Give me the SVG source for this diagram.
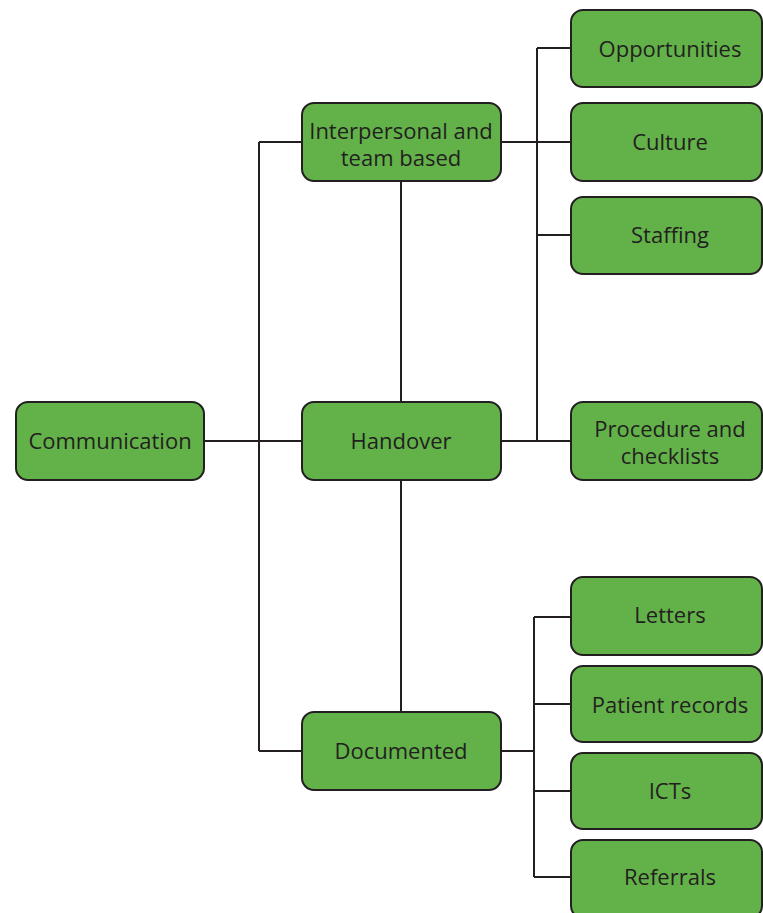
<svg xmlns="http://www.w3.org/2000/svg" width="763" height="913" viewBox="0 0 763 913">
<style>
.box{fill:#62b249;stroke:#231f20;stroke-width:2}
.lbl{font-family:"Open Sans","Noto Sans",sans-serif;font-size:22px;fill:#231f20;text-anchor:middle}
.ln{fill:none;stroke:#231f20;stroke-width:2}
</style>
<rect width="763" height="913" fill="#fff"/>
<g id="connectors">
<path class="ln" d="M204 441H302M259 142V751M259 142H302M259 751H302"/>
<path class="ln" d="M401 181V402M401 480V712"/>
<path class="ln" d="M501 142H571M537 48V441M537 48H571M537 235H571M501 441H571"/>
<path class="ln" d="M501 751H534M534 617V877M534 617H571M534 704H571M534 791H571M534 877H571"/>
</g>
<g id="communication"><rect class="box" x="16" y="402" width="188" height="78" rx="12"/><text class="lbl" x="110" y="449">Communication</text></g>
<g id="interpersonal"><rect class="box" x="302" y="103" width="199" height="78" rx="12"/><text class="lbl" x="401" y="139">Interpersonal and<tspan x="401" dy="27">team based</tspan></text></g>
<g id="handover"><rect class="box" x="302" y="402" width="199" height="78" rx="12"/><text class="lbl" x="401" y="449">Handover</text></g>
<g id="documented"><rect class="box" x="302" y="712" width="199" height="78" rx="12"/><text class="lbl" x="401" y="759">Documented</text></g>
<g id="opportunities"><rect class="box" x="571" y="10" width="191" height="77" rx="12"/><text class="lbl" x="670" y="57">Opportunities</text></g>
<g id="culture"><rect class="box" x="571" y="103" width="191" height="78" rx="12"/><text class="lbl" x="670" y="150">Culture</text></g>
<g id="staffing"><rect class="box" x="571" y="197" width="191" height="77" rx="12"/><text class="lbl" x="670" y="243">Staffing</text></g>
<g id="procedure"><rect class="box" x="571" y="402" width="191" height="78" rx="12"/><text class="lbl" x="670" y="437">Procedure and<tspan x="670" dy="27">checklists</tspan></text></g>
<g id="letters"><rect class="box" x="571" y="577" width="191" height="78" rx="12"/><text class="lbl" x="670" y="623">Letters</text></g>
<g id="patient"><rect class="box" x="571" y="666" width="191" height="76" rx="12"/><text class="lbl" x="670" y="713">Patient records</text></g>
<g id="icts"><rect class="box" x="571" y="753" width="191" height="76" rx="12"/><text class="lbl" x="670" y="799">ICTs</text></g>
<g id="referrals"><rect class="box" x="571" y="840" width="191" height="78" rx="12"/><text class="lbl" x="670" y="885">Referrals</text></g>
</svg>
